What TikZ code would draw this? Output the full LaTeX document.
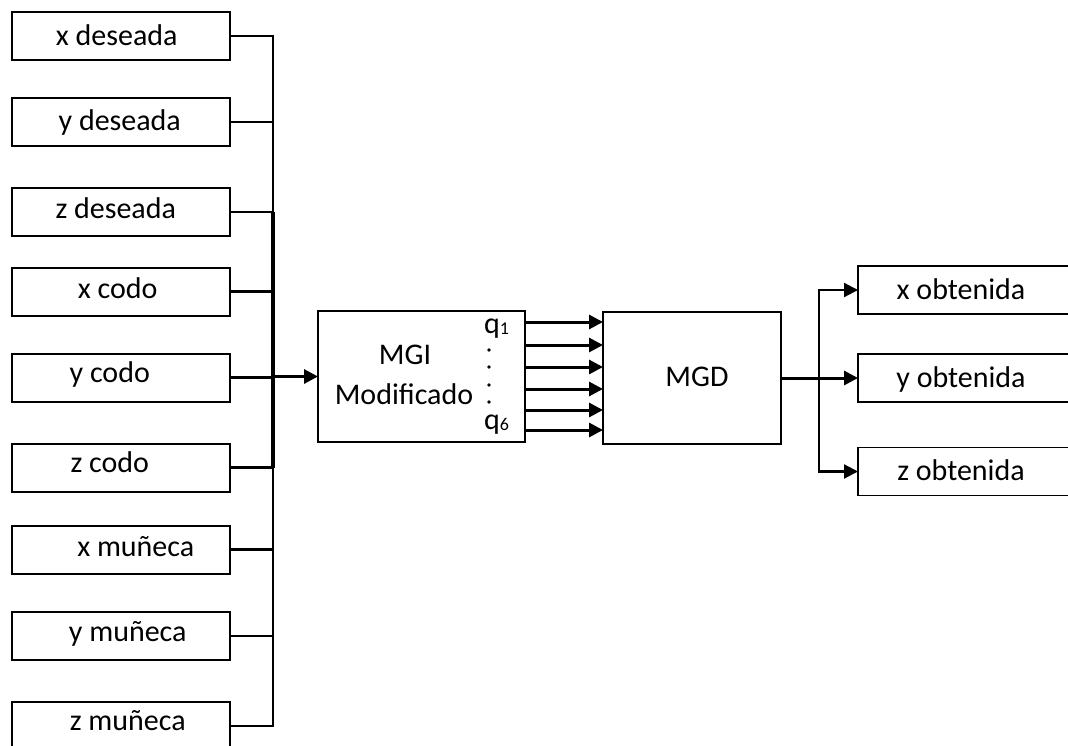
\documentclass[tikz,border=0pt]{standalone}
\usepackage{fontspec}
\setmainfont{Carlito}
\usetikzlibrary{arrows.meta}
\newcommand{\qsub}[1]{q\raisebox{-1.5pt}{\fontsize{18}{18}\selectfont #1}}
\begin{document}
\begin{tikzpicture}[x=1pt,y=-1pt, font=\fontsize{30}{36}\selectfont,
  box/.style={draw, line width=2pt, minimum width=218.5pt, minimum height=48pt, inner sep=0pt, outer sep=0pt},
  obox/.style={draw, line width=1.8pt, minimum width=230pt, minimum height=48pt, inner sep=0pt, outer sep=0pt},
  bigbox/.style={draw, line width=1.8pt, inner sep=0pt, outer sep=0pt},
  txt/.style={anchor=base, inner sep=0pt},
  txtw/.style={anchor=base west, inner sep=0pt},
  dotmark/.style={circle, fill, inner sep=0pt, minimum size=3.6pt},
  wire/.style={line width=2.2pt},
  busline/.style={line width=4.5pt},
  arr/.style={line width=3pt, -{Triangle[length=14pt,width=14pt]}},
  arrthin/.style={line width=2.2pt, -{Triangle[length=14pt,width=14pt]}}]
\useasboundingbox (0,0) rectangle (1068,745);
\clip (0,0) rectangle (1068,745);
% input boxes
\node[box] (b1) at (120.75,36) {};
\node[box] (b2) at (120.75,122) {};
\node[box] (b3) at (120.75,212) {};
\node[box] (b4) at (120.75,291.5) {};
\node[box] (b5) at (120.75,377.5) {};
\node[box] (b6) at (120.75,467.5) {};
\node[box] (b7) at (120.75,549.5) {};
\node[box] (b8) at (120.75,636) {};
\node[box] (b9) at (120.75,726) {};
\node[txt] (t1) at (116.75,45.7) {x deseada};
\node[txt] (t2) at (119.75,130) {y deseada};
\node[txt] (t3) at (115.75,218) {z deseada};
\node[txt] (t4) at (117.75,298.5) {x codo};
\node[txt] (t5) at (109.75,382.5) {y codo};
\node[txt] (t6) at (109.75,472.5) {z codo};
\node[txt] (t7) at (135.75,556.5) {x muñeca};
\node[txt] (t8) at (127.75,641) {y muñeca};
\node[txt] (t9) at (127.75,730) {z muñeca};
% main blocks
\node[bigbox, minimum width=207pt, minimum height=131pt] (mgi) at (421.5,376.5) {};
\node[txt] (mgi1) at (405,364) {MGI};
\node[txt] (mgi2) at (404,404) {Modificado};
\node[txtw] (q1) at (484,333) {\qsub{1}};
\node[dotmark] (d1) at (489,350) {};
\node[dotmark] (d2) at (489,367) {};
\node[dotmark] (d3) at (489,385) {};
\node[dotmark] (d4) at (489,402) {};
\node[txtw] (q6) at (484,429) {\qsub{6}};
\node[bigbox, minimum width=178pt, minimum height=132pt] (mgd) at (692,378) {};
\node[txt] (tmgd) at (697,386) {MGD};
% output boxes
\node[obox] (o1) at (973,290) {};
\node[obox] (o2) at (973,378) {};
\node[obox] (o3) at (973,471.5) {};
\node[txt] (to1) at (961,299) {x obtenida};
\node[txt] (to2) at (961,387) {y obtenida};
\node[txt] (to3) at (961,480) {z obtenida};
% bus
\coordinate (busx) at (273,0);
\draw[wire] (b1.east) -| (b9.east -| busx) -- (b9.east);
\foreach \i in {2,...,8} \draw[wire] (b\i.east) -- (b\i.east -| busx);
\draw[busline] (b3.east -| busx) -- (b6.east -| busx);
\draw[arr] (mgi.west -| busx) -- (mgi.west);
% q arrows
\foreach \i/\y in {1/322,2/345,3/367,4/389,5/410,6/430} {
  \coordinate (r\i) at (0,\y);
  \draw[arr] (mgi.east |- r\i) -- (mgd.west |- r\i);
}
% outputs
\coordinate (ox) at (819,0);
\draw[arr] (mgd.east) -- (o2.west);
\draw[arrthin] (mgd.east -| ox) |- (o1.west);
\draw[arrthin] (mgd.east -| ox) |- (o3.west);
\end{tikzpicture}
\end{document}
